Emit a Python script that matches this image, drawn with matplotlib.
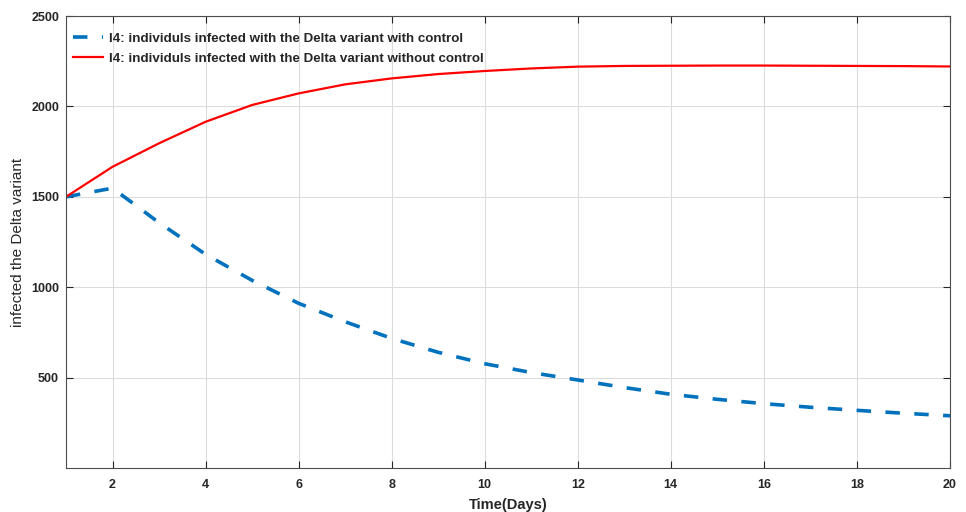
import matplotlib
matplotlib.use("Agg")
import matplotlib.pyplot as plt

plt.rcParams['font.family'] = ['Liberation Sans', 'DejaVu Sans']

days = list(range(1, 21))
with_control = [1500, 1548, 1357, 1182, 1038, 911, 809, 717, 640, 577,
                528, 487, 445, 408, 380, 356, 336, 319, 303, 289]
without_control = [1500, 1666, 1796, 1915, 2008, 2072, 2122, 2155, 2179, 2196,
                   2210, 2220, 2224, 2225, 2226, 2226, 2225, 2224, 2223, 2221]

label_with = "I4: individuls infected with the Delta variant with control"
label_without = "I4: individuls infected with the Delta variant without control"
x_ticks = [2, 4, 6, 8, 10, 12, 14, 16, 18, 20]
y_ticks = [500, 1000, 1500, 2000, 2500]

fig = plt.figure(figsize=(9.66, 5.12), dpi=100)
ax = fig.add_axes([0.0683, 0.0859, 0.9151, 0.8828])

ax.plot(days, with_control, color='#0072BD', linewidth=2.6,
        linestyle=(0, (4, 4)), label=label_with, dash_capstyle='butt')
ax.plot(days, without_control, color='#FF0000', linewidth=1.6,
        label=label_without)

ax.set_xlim(1, 20)
ax.set_ylim(0, 2500)
ax.set_xticks(x_ticks)
ax.set_yticks(y_ticks)
ax.grid(True, color='#DCDCDC', linewidth=0.8)
ax.set_axisbelow(True)

axc = '#4D4D4D'
for s in ax.spines.values():
    s.set_color(axc)
    s.set_linewidth(0.8)
ax.tick_params(direction='in', length=5, width=0.8, color='#262626',
               top=True, right=True, labelsize=9, labelcolor='#262626')
ax.tick_params(axis='x', pad=8)
ax.tick_params(axis='y', pad=5)
for lbl in ax.get_xticklabels() + ax.get_yticklabels():
    lbl.set_fontweight('bold')

ax.set_xlabel('Time(Days)', fontsize=10.5, fontweight='bold', color='#262626', labelpad=5)
ax.set_ylabel('infected the Delta variant', fontsize=11, fontweight='normal',
              color='#262626', labelpad=4)

leg = ax.legend(loc='upper left', bbox_to_anchor=(0.008, 0.963), frameon=False,
                prop={'weight': 'bold', 'size': 9.6}, handlelength=2.25,
                handletextpad=0.45, borderaxespad=0, borderpad=0,
                labelspacing=0.57)
for t in leg.get_texts():
    t.set_color('#262626')

fig.savefig('out.png', dpi=100)
